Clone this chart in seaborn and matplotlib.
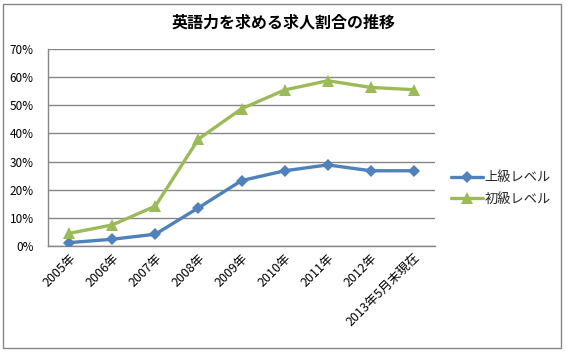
import matplotlib
matplotlib.use("Agg")
import matplotlib.pyplot as plt
import seaborn as sns
import pandas as pd
from matplotlib.patches import Rectangle

categories = ["2005年", "2006年", "2007年", "2008年", "2009年", "2010年", "2011年", "2012年", "2013年5月末現在"]
advanced = [1.1, 2.3, 4.1, 13.5, 23.2, 26.7, 28.8, 26.7, 26.7]
beginner = [4.4, 7.4, 14.1, 38.0, 48.8, 55.5, 58.8, 56.4, 55.6]
series_names = ["上級レベル", "初級レベル"]
title = "英語力を求める求人割合の推移"
yticks = [0, 10, 20, 30, 40, 50, 60, 70]

sns.set_theme(style="white")
plt.rcParams["font.family"] = ["Noto Sans CJK JP", "DejaVu Sans"]

df = pd.DataFrame({
    "cat": categories * 2,
    "x": list(range(len(categories))) * 2,
    "val": advanced + beginner,
    "series": [series_names[0]] * len(categories) + [series_names[1]] * len(categories),
})

fig = plt.figure(figsize=(5.67, 3.52), dpi=100)
ax = fig.add_axes([0.084, 0.302, 0.684, 0.558])

palette = {series_names[0]: "#4F81BD", series_names[1]: "#9BBB59"}
markers = {series_names[0]: "D", series_names[1]: "^"}
sns.lineplot(data=df, x="x", y="val", hue="series", style="series", palette=palette,
             markers=markers, dashes=False, linewidth=2.4, markersize=8,
             markeredgewidth=0, ax=ax, legend=True, zorder=3)
for ln in ax.get_lines():
    if ln.get_marker() == "D":
        ln.set_markersize(6.5)

ax.set_xlim(-0.5, len(categories) - 0.5)
ax.set_ylim(0, 70)
ax.set_yticks(yticks)
ax.set_yticklabels([f"{v}%" for v in yticks], fontsize=8.5, color="#000000")
ax.set_xticks(range(len(categories)))
ax.set_xticklabels(categories, rotation=45, ha="right", rotation_mode="anchor", fontsize=9, color="#000000")
ax.set_xlabel("")
ax.set_ylabel("")
ax.grid(axis="y", color="#868686", linewidth=1)
ax.set_axisbelow(True)
for s in ["top", "right"]:
    ax.spines[s].set_visible(False)
for s in ["left", "bottom"]:
    ax.spines[s].set_color("#868686")
    ax.spines[s].set_linewidth(1)
ax.tick_params(axis="y", length=0, pad=10)
ax.tick_params(axis="x", length=0, pad=4)

handles, labels = ax.get_legend_handles_labels()
for h in handles:
    if h.get_marker() == "D":
        h.set_markersize(6.5)
    else:
        h.set_markersize(8)
leg = ax.legend(handles, labels, loc="center left", bbox_to_anchor=(1.01, 0.29), frameon=False,
                fontsize=9.5, handlelength=2.4, handletextpad=0.1, labelspacing=0.65)

fig.text(0.5, 0.935, title, ha="center", va="center", fontsize=11.5, fontweight="bold", color="#000000")

fig.patches.append(Rectangle((0.006, 0.012), 0.984, 0.976, transform=fig.transFigure,
                             fill=False, edgecolor="#868686", linewidth=1))

fig.savefig("out.png", dpi=100)
